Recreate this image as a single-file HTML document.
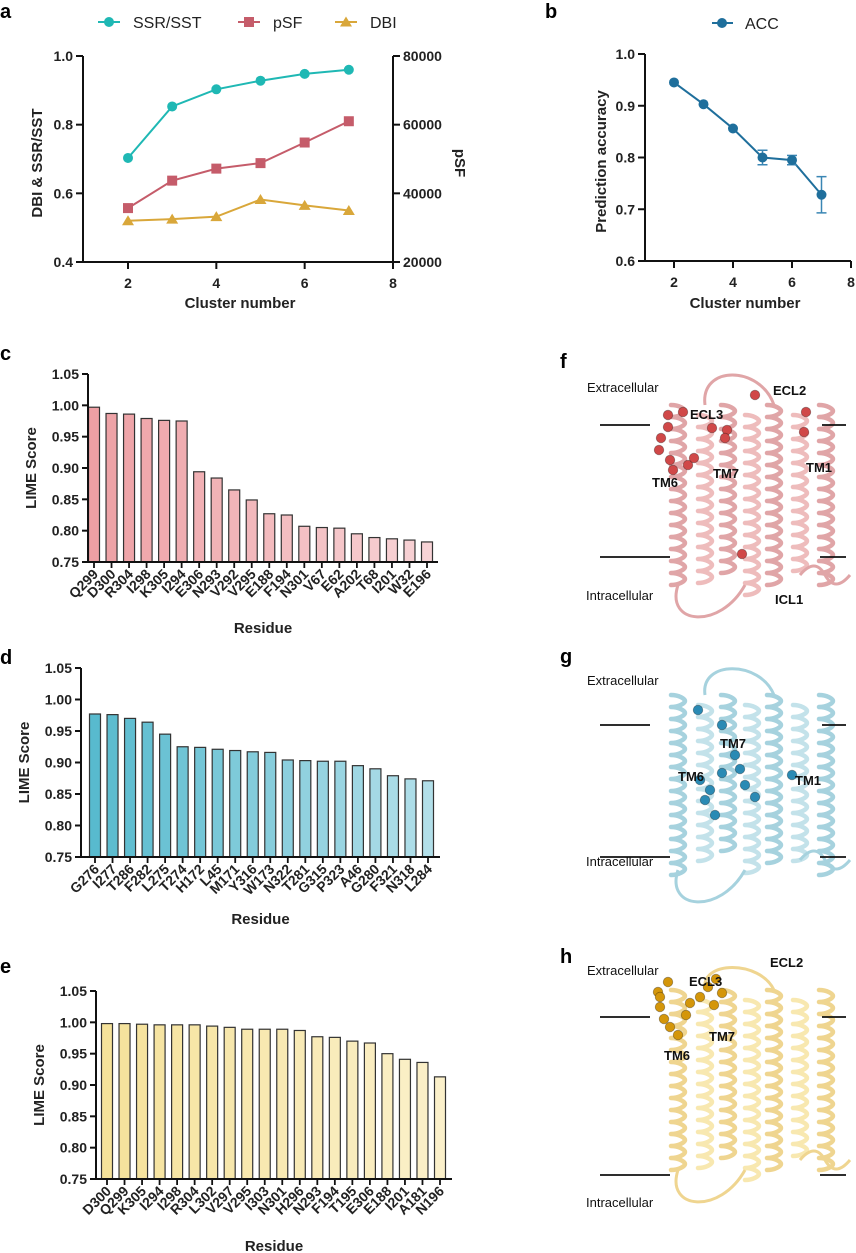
<!DOCTYPE html>
<html><head><meta charset="utf-8">
<style>
body{margin:0;background:#fff;}
svg{display:block;font-family:"Liberation Sans",Arial,sans-serif;}
.tk{font-size:14px;font-weight:bold;fill:#222;}
.tt{font-size:15px;font-weight:bold;fill:#222;}
.pl{font-size:20px;font-weight:bold;fill:#000;}
.lab{font-size:13px;fill:#111;}
.labb{font-size:13px;font-weight:bold;fill:#111;}
</style></head>
<body>
<svg id="fig" width="856" height="1253" viewBox="0 0 856 1253">
<g id="gA"></g>
<g id="gB"></g>
<g id="gC"></g>
<g id="gD"></g>
<g id="gE"></g>
<g id="gS"></g>
</svg>
<script>
const clusters=[2,3,4,5,6,7];
const ssrValues=[0.703,0.853,0.903,0.928,0.948,0.960];
const psfValues=[35700,43700,47200,48800,54800,61000];
const dbiValues=[0.520,0.525,0.532,0.582,0.565,0.550];
const accValues=[0.945,0.903,0.856,0.800,0.795,0.728];
const accErr=[0,0,0,0.014,0.009,0.035];
const leftTicksA=[0.4,0.6,0.8,1.0];
const rightTicksA=[20000,40000,60000,80000];
const xTicks=[2,4,6,8];
const ticksB=[0.6,0.7,0.8,0.9,1.0];
const limeTicks=[0.75,0.80,0.85,0.90,0.95,1.00,1.05];
const resC=["Q299","D300","R304","I298","K305","I294","E306","N293","V292","V295","E188","F194","N301","V67","E62","A202","T68","I201","W32","E196"];
const valC=[0.997,0.987,0.986,0.979,0.976,0.975,0.894,0.884,0.865,0.849,0.827,0.825,0.807,0.805,0.804,0.795,0.789,0.787,0.785,0.782];
const resD=["G276","I277","T286","F282","L275","T274","H172","L45","M171","Y316","W173","N322","T281","G315","P323","A46","G280","F321","N318","L284"];
const valD=[0.977,0.976,0.970,0.964,0.945,0.925,0.924,0.921,0.919,0.917,0.916,0.904,0.903,0.902,0.902,0.895,0.890,0.879,0.874,0.871];
const resE=["D300","Q299","K305","I294","I298","R304","L302","V297","V295","I303","N301","H296","N293","F194","T195","E306","E188","I201","A181","N196"];
const valE=[0.998,0.998,0.997,0.996,0.996,0.996,0.994,0.992,0.989,0.989,0.989,0.987,0.977,0.976,0.970,0.967,0.950,0.941,0.936,0.913];

const NS="http://www.w3.org/2000/svg";
function mk(parent,tag,attrs,text){const e=document.createElementNS(NS,tag);for(const k in attrs)e.setAttribute(k,attrs[k]);if(text!==undefined)e.textContent=text;parent.appendChild(e);return e;}
function line(p,x1,y1,x2,y2,s,w){return mk(p,'line',{x1,y1,x2,y2,stroke:s||'#111','stroke-width':w||2});}
function marker(p,type,x,y,c){
  let e;
  if(type==='circle')e=mk(p,'circle',{cx:x,cy:y,r:5,fill:c});
  else if(type==='square')e=mk(p,'rect',{x:x-5,y:y-5,width:10,height:10,fill:c});
  else e=mk(p,'polygon',{points:`${x},${y-5.5} ${x+6},${y+4.5} ${x-6},${y+4.5}`,fill:c});
  return e;
}

/* ---------- Panel A ---------- */
(function(){
  const g=document.getElementById('gA');
  const X0=83,X1=393,Y0=262,Y1=56;
  const xs=v=>128+(v-2)*(393-128)/6;
  const yl=v=>Y0-(v-0.4)/0.6*(Y0-Y1);
  const yr=v=>Y0-(v-20000)/60000*(Y0-Y1);
  const t=mk(g,'text',{x:0,y:18,class:'pl'},'a');
  line(g,X0,Y1,X0,Y0);line(g,X0-1,Y0,X1+1,Y0);line(g,X1,Y1,X1,Y0);
  leftTicksA.forEach(v=>{line(g,X0-7,yl(v),X0,yl(v));const e=mk(g,'text',{x:X0-10,y:yl(v)+5,class:'tk','text-anchor':'end'},v.toFixed(1));});
  rightTicksA.forEach(v=>{line(g,X1,yr(v),X1+7,yr(v));const e=mk(g,'text',{x:X1+10,y:yr(v)+5,class:'tk'},String(v));});
  xTicks.forEach(v=>{line(g,xs(v),Y0,xs(v),Y0+7);const e=mk(g,'text',{x:xs(v),y:Y0+26,class:'tk','text-anchor':'middle'},String(v));});
  let e=mk(g,'text',{x:240,y:308,class:'tt','text-anchor':'middle'},'Cluster number');
  e=mk(g,'text',{transform:`translate(42,${(Y0+Y1)/2+4}) rotate(-90)`,class:'tt','text-anchor':'middle'},'DBI & SSR/SST');
  e=mk(g,'text',{transform:`translate(455,${(Y0+Y1)/2+4}) rotate(90)`,class:'tt','text-anchor':'middle'},'pSF');
  const series=[{v:ssrValues,f:yl,c:'#1fb8b4',m:'circle',n:'SSR/SST',lx:98},{v:psfValues,f:yr,c:'#c55c6a',m:'square',n:'pSF',lx:238},{v:dbiValues,f:yl,c:'#d9a73a',m:'triangle',n:'DBI',lx:335}];
  series.forEach(s=>{
    const sg=mk(g,'g',{});
    mk(sg,'polyline',{points:clusters.map((c,i)=>xs(c)+','+s.f(s.v[i])).join(' '),fill:'none',stroke:s.c,'stroke-width':2});
    clusters.forEach((c,i)=>{const m=marker(sg,s.m,xs(c),s.f(s.v[i]),s.c);});
    const lg=mk(g,'g',{});
    line(lg,s.lx,22,s.lx+22,22,s.c,2);marker(lg,s.m,s.lx+11,22,s.c);
    mk(lg,'text',{x:s.lx+35,y:28,style:'font-size:16px;fill:#222'},s.n);
  });
})();

/* ---------- Panel B ---------- */
(function(){
  const g=document.getElementById('gB');
  const X0=645,X1=851,Y0=261,Y1=54;
  const xs=v=>674+(v-2)*(851-674)/6;
  const ys=v=>Y0-(v-0.6)/0.4*(Y0-Y1);
  const c='#1f6f9c';
  const t=mk(g,'text',{x:545,y:18,class:'pl'},'b');
  line(g,X0,Y1,X0,Y0);line(g,X0-1,Y0,X1,Y0);
  ticksB.forEach(v=>{line(g,X0-7,ys(v),X0,ys(v));const e=mk(g,'text',{x:X0-10,y:ys(v)+5,class:'tk','text-anchor':'end'},v.toFixed(1));});
  xTicks.forEach(v=>{line(g,xs(v),Y0,xs(v),Y0+7);const e=mk(g,'text',{x:xs(v),y:Y0+26,class:'tk','text-anchor':'middle'},String(v));});
  let e=mk(g,'text',{x:745,y:308,class:'tt','text-anchor':'middle'},'Cluster number');
  e=mk(g,'text',{transform:`translate(606,${(Y0+Y1)/2+4}) rotate(-90)`,class:'tt','text-anchor':'middle'},'Prediction accuracy');
  const sg=mk(g,'g',{});
  mk(sg,'polyline',{points:clusters.map((cl,i)=>xs(cl)+','+ys(accValues[i])).join(' '),fill:'none',stroke:c,'stroke-width':2});
  clusters.forEach((cl,i)=>{
    if(accErr[i]>0){const x=xs(cl),a=ys(accValues[i]+accErr[i]),b=ys(accValues[i]-accErr[i]);
      line(sg,x,a,x,b,'#3a86b4',1.5);line(sg,x-5,a,x+5,a,'#3a86b4',1.5);line(sg,x-5,b,x+5,b,'#3a86b4',1.5);}
    const m=marker(sg,'circle',xs(cl),ys(accValues[i]),c);
  });
  const lg=mk(g,'g',{});
  line(lg,712,23,733,23,c,2);marker(lg,'circle',722,23,c);mk(lg,'text',{x:745,y:29,style:'font-size:16px;fill:#222'},'ACC');
})();

/* ---------- Bar charts ---------- */
function barChart(gid,letter,ly,res,vals,cfg){
  const g=document.getElementById(gid);
  const ys=v=>cfg.y0-(v-0.75)/0.30*(cfg.y0-cfg.y1);
  const step=(cfg.xl-cfg.xf)/(res.length-1);
  const xs=i=>cfg.xf+i*step;
  const t=mk(g,'text',{x:0,y:ly,class:'pl'},letter);
  res.forEach((r,i)=>{
    const f=i/(res.length-1);
    const col=`rgb(${Math.round(cfg.c0[0]+(cfg.c1[0]-cfg.c0[0])*f)},${Math.round(cfg.c0[1]+(cfg.c1[1]-cfg.c0[1])*f)},${Math.round(cfg.c0[2]+(cfg.c1[2]-cfg.c0[2])*f)})`;
    const b=mk(g,'rect',{x:xs(i)-5.5,y:ys(vals[i]),width:11,height:cfg.y0-ys(vals[i]),fill:col,stroke:'#333','stroke-width':1.2});
    
    line(g,xs(i),cfg.y0,xs(i),cfg.y0+6,'#111',1.8);
    const l=mk(g,'text',{transform:`translate(${xs(i)+5},${cfg.y0+13}) rotate(-45)`,class:'tk','text-anchor':'end'},r);
    
  });
  line(g,cfg.ax,cfg.y1,cfg.ax,cfg.y0);line(g,cfg.ax-1,cfg.y0,cfg.xe,cfg.y0);
  limeTicks.forEach(v=>{line(g,cfg.ax-6,ys(v),cfg.ax,ys(v));const e=mk(g,'text',{x:cfg.ax-9,y:ys(v)+5,class:'tk','text-anchor':'end'},v.toFixed(2));});
  let e=mk(g,'text',{transform:`translate(${cfg.ax-52},${(cfg.y0+cfg.y1)/2}) rotate(-90)`,class:'tt','text-anchor':'middle'},'LIME Score');
  e=mk(g,'text',{x:(cfg.ax+cfg.xe)/2,y:cfg.ry,class:'tt','text-anchor':'middle'},'Residue');
}
barChart('gC','c',360,resC,valC,{ax:88,y0:562,y1:374,xf:94,xl:427,xe:438,ry:633,c0:[238,160,164],c1:[247,211,214]});
barChart('gD','d',664,resD,valD,{ax:81,y0:857,y1:668,xf:95,xl:428,xe:440,ry:924,c0:[88,186,206],c1:[178,223,233]});
barChart('gE','e',973,resE,valE,{ax:96,y0:1179,y1:991,xf:107,xl:440,xe:452,ry:1251,c0:[245,226,154],c1:[251,240,202]});

/* ---------- Structure panels (schematic) ---------- */
function helix(g,x,yTop,yBot,col){
  let d=`M${x-7},${yTop}`;let w=14;
  for(let y=yTop;y<yBot;y+=12){d+=` c${w*0.6},0 ${w},4 ${w},6 c0,2 ${-w*0.4},6 ${-w},6`;}
  mk(g,'path',{d,fill:'none',stroke:col,'stroke-width':4.5,'stroke-linejoin':'round','stroke-linecap':'round'});
}
function structure(letter,top,colL,colD,ballCol,opts){
  const g=mk(document.getElementById('gS'),'g',{});
  const t=mk(g,'text',{x:560,y:top+8,class:'pl'},letter);
  const helixX=[678,705,728,752,774,800,826];
  helixX.forEach((x,i)=>helix(g,x,top+opts.ht+(i%2)*10,top+opts.hb-(i%3)*10,i%2?colL:colD));
  mk(g,'path',{d:`M705,${top+opts.ht} C700,${top+5} 760,${top+5} 774,${top+opts.ht} M678,${top+opts.hb} C665,${top+opts.hb+40} 720,${top+opts.hb+45} 745,${top+opts.hb} M800,${top+opts.hb-10} q15,-18 25,0 q10,18 25,0`,fill:'none',stroke:colD,'stroke-width':3});
  opts.balls.forEach(b=>mk(g,'circle',{cx:b[0],cy:top+b[1],r:4.8,fill:ballCol,stroke:'#00000055','stroke-width':0.8}));
  line(g,600,top+opts.l1,650,top+opts.l1,'#111',1.8);line(g,822,top+opts.l1,846,top+opts.l1,'#111',1.8);
  line(g,600,top+opts.l2,670,top+opts.l2,'#111',1.8);line(g,820,top+opts.l2,846,top+opts.l2,'#111',1.8);
  mk(g,'text',{x:587,y:top+opts.ex,class:'lab'},'Extracellular');
  mk(g,'text',{x:586,y:top+opts.in,class:'lab'},'Intracellular');
  opts.labels.forEach(l=>mk(g,'text',{x:l[1],y:top+l[2],class:'labb'},l[0]));
}
structure('f',360,'#eebcbc','#e0a5a7','#d04848',{ht:45,hb:225,l1:65,l2:197,ex:32,in:240,
  balls:[[668,55],[683,52],[668,67],[661,78],[659,90],[670,100],[673,110],[688,105],[694,98],[712,68],[727,70],[725,78],[755,35],[806,52],[804,72],[742,194]],
  labels:[['ECL2',773,35],['ECL3',690,59],['TM6',652,127],['TM7',713,118],['TM1',806,112],['ICL1',775,244]]});
structure('g',655,'#c3e2ea','#a6d2de','#2a8ab4',{ht:40,hb:215,l1:70,l2:202,ex:30,in:211,
  balls:[[698,55],[722,70],[735,100],[740,114],[722,118],[710,135],[700,125],[705,145],[715,160],[745,130],[755,142],[792,120]],
  labels:[['TM7',720,93],['TM6',678,126],['TM1',795,130]]});
structure('h',955,'#f8e8b0','#efd590','#d4960a',{ht:35,hb:215,l1:62,l2:220,ex:20,in:252,
  balls:[[668,27],[658,37],[660,52],[664,64],[670,72],[678,80],[686,60],[690,48],[700,42],[708,32],[716,24],[722,38],[714,50],[660,42]],
  labels:[['ECL2',770,12],['ECL3',689,31],['TM7',709,86],['TM6',664,105]]});
</script>
</body></html>
